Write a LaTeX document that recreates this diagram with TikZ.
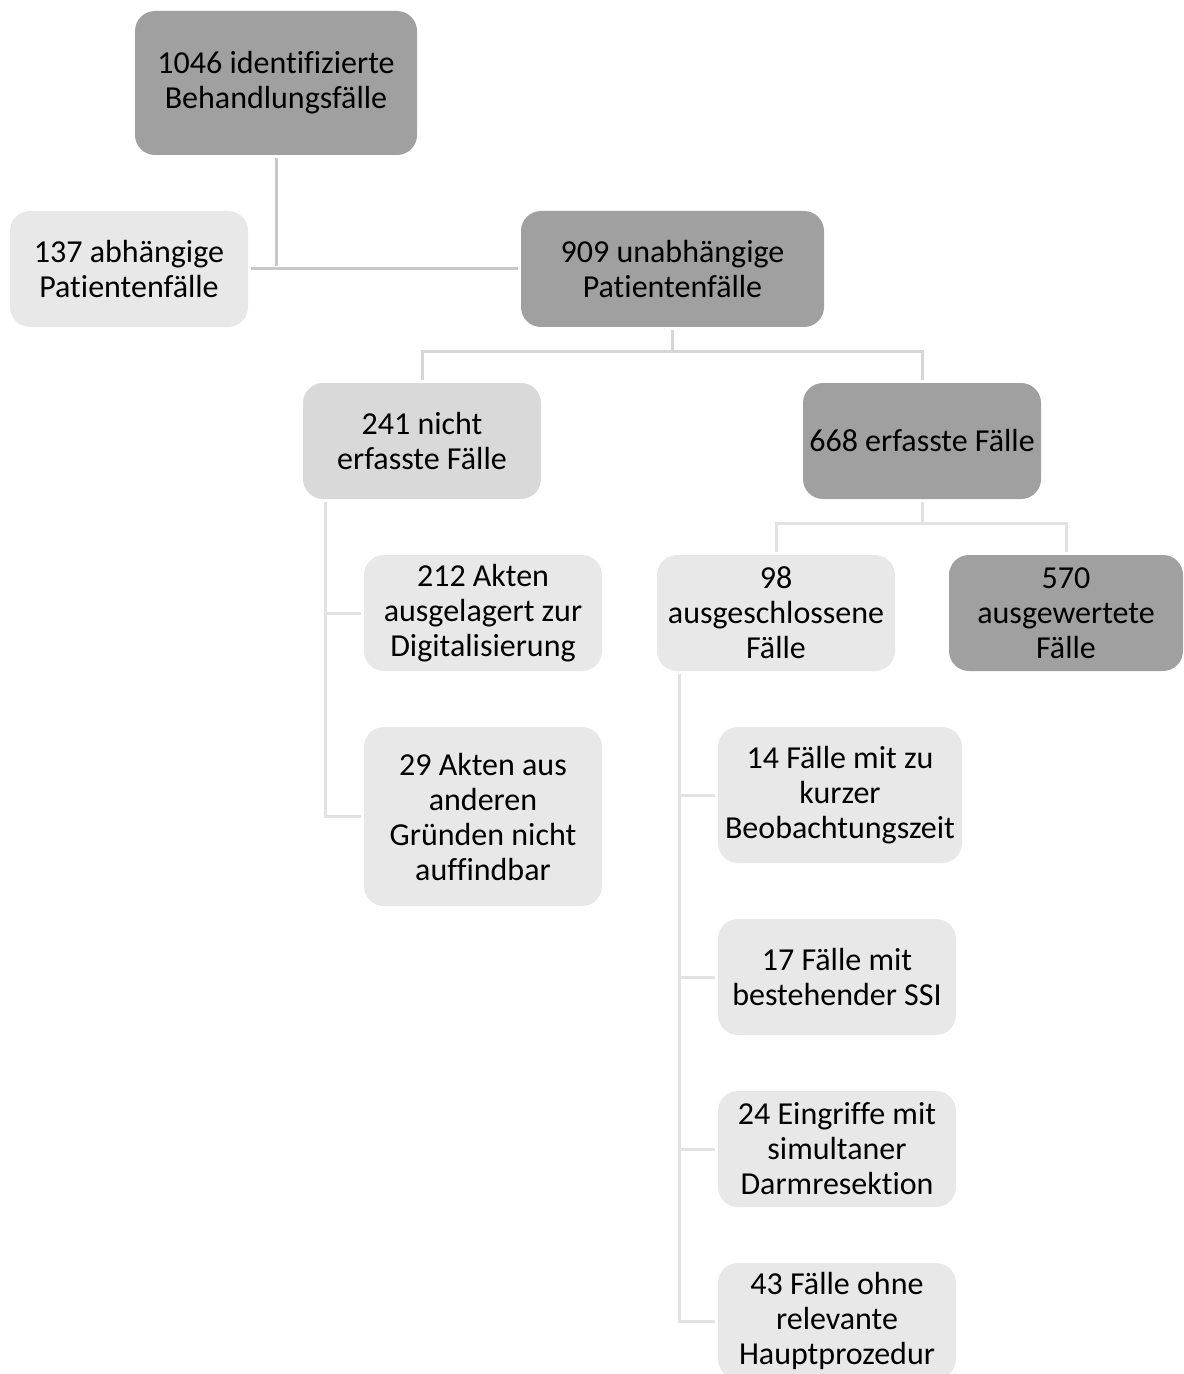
\documentclass[tikz,border=0pt]{standalone}
\usepackage{fontspec}
\setmainfont{Carlito}[Ligatures=NoCommon]
\definecolor{boxdark}{HTML}{A0A0A0}
\definecolor{boxmid}{HTML}{D9D9D9}
\definecolor{boxlight}{HTML}{E8E8E8}
\definecolor{linedark}{HTML}{C8C8C8}
\definecolor{linemid}{HTML}{D6D6D6}
\definecolor{linelight}{HTML}{E2E2E2}
\begin{document}
\begin{tikzpicture}[x=0.5pt, y=-0.5pt,
    fbox/.style={rounded corners=10pt, align=center, inner sep=0pt,
        minimum width=119pt, minimum height=58pt,
        font=\fontsize{16}{17.5}\selectfont},
    darkbox/.style={fbox, fill=boxdark},
    midbox/.style={fbox, fill=boxmid},
    lightbox/.style={fbox, fill=boxlight},
    conn/.style={line width=1.5pt, shorten <=1.5pt, shorten >=1.5pt}]
    \useasboundingbox (0,0) rectangle (1183,1374);
    \clip (0,0) rectangle (1183,1374);

    % first level
    \node[darkbox, minimum width=141pt, minimum height=72pt] (top) at (276,83)
        {1046 identifizierte\\Behandlungsfälle};
    \node[lightbox] (dep) at (129,269) {137 abhängige\\Patientenfälle};
    \node[darkbox, minimum width=151.5pt] (indep) at (672.5,269)
        {909 unabhängige\\Patientenfälle};
    \coordinate (split) at (top.south |- dep.east);
    \draw[conn, linedark] (top.south) -- (split);
    \draw[conn, linedark] (dep.east) -- (indep.west);

    % second level
    \node[midbox] (miss) at (422,441) {241 nicht\\erfasste Fälle};
    \node[darkbox] (found) at (922,441) {668 erfasste Fälle};
    \draw[conn, linemid] (indep.south) -- ++(0,24) -| (miss.north);
    \draw[conn, linemid] (indep.south) -- ++(0,24) -| (found.north);

    % not found records
    \node[lightbox] (extern) at (483,613) {212 Akten\\ausgelagert zur\\Digitalisierung};
    \node[lightbox, minimum height=89.5pt] (lost) at (483,816.5)
        {29 Akten aus\\anderen\\Gründen nicht\\auffindbar};
    \draw[conn, linelight] (miss.south west) ++(23,0) |- (extern.west);
    \draw[conn, linelight] (miss.south west) ++(23,0) |- (lost.west);

    % found records
    \node[lightbox] (excl) at (776,613) {98\\ausgeschlossene\\Fälle};
    \node[darkbox, minimum width=117pt] (eval) at (1066,613)
        {570\\ausgewertete\\Fälle};
    \draw[conn, linelight] (found.south) -- ++(0,24) -| (excl.north);
    \draw[conn, linelight] (found.south) -- ++(0,24) -| (eval.north);

    % exclusion reasons
    \node[lightbox, minimum width=122pt, minimum height=68pt] (short) at (840,795)
        {14 Fälle mit zu\\kurzer\\Beobachtungszeit};
    \node[lightbox] (ssi) at (837,977) {17 Fälle mit\\bestehender SSI};
    \node[lightbox] (bowel) at (837,1149) {24 Eingriffe mit\\simultaner\\Darmresektion};
    \node[lightbox] (noproc) at (837,1321) {43 Fälle ohne\\relevante\\Hauptprozedur};
    \foreach \n in {short, ssi, bowel, noproc}
        \draw[conn, linelight] (excl.south west) ++(23,0) |- (\n.west);
\end{tikzpicture}
\end{document}
